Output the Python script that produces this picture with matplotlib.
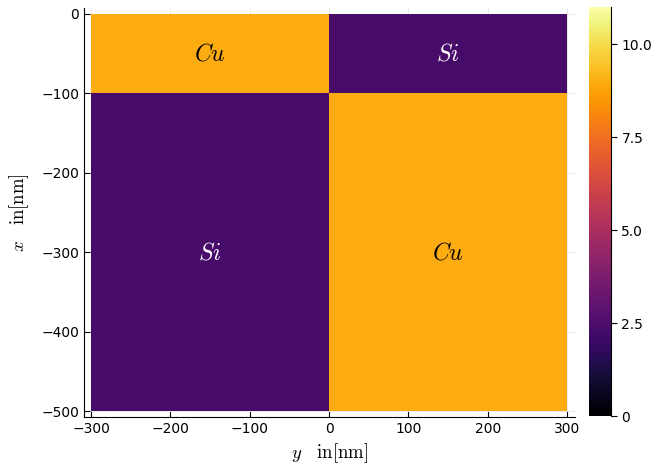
import numpy as np
import matplotlib
matplotlib.use("Agg")
import matplotlib.pyplot as plt

plt.rcParams['mathtext.fontset'] = 'cm'

# densities in g/cm^3
rho_cu = 8.96
rho_si = 2.33

# cell edges (nm)
y_edges = [-300, 0, 300]
x_edges = [-500, -100, 0]

# rows from bottom to top
density = np.array([[rho_si, rho_cu],
                    [rho_cu, rho_si]])

labels = [(-150, -50, "Cu"), (150, -50, "Si"),
          (-150, -300, "Si"), (150, -300, "Cu")]

fig = plt.figure(figsize=(6.54, 4.66), dpi=100)
ax = fig.add_axes([84/654, 1 - 417/466, 491/654, 409/466])
cax = fig.add_axes([589/654, 1 - 416/466, 22/654, 409/466])

mesh = ax.pcolormesh(y_edges, x_edges, density, cmap='inferno', vmin=0, vmax=11, zorder=2)
for xx, yy, name in labels:
    col = 'black' if name == "Cu" else 'white'
    ax.text(xx, yy, "$" + name + "$", color=col, fontsize=17, ha='center', va='center', zorder=3)

ax.set_xlim(-309, 310)
ax.set_ylim(-507.5, 7.5)
ax.set_xticks([-300, -200, -100, 0, 100, 200, 300])
ax.set_yticks([0, -100, -200, -300, -400, -500])
ax.grid(True, color='#e6e6e6', linewidth=0.6, zorder=0)
ax.set_axisbelow(True)
for s in ['top', 'right']:
    ax.spines[s].set_visible(False)
ax.tick_params(direction='in', length=4, labelsize=10, width=0.8)
ax.set_xlabel(r"$y\quad\mathrm{in[nm]}$", fontsize=13.5, labelpad=4)
ax.set_ylabel(r"$x\quad\mathrm{in[nm]}$", fontsize=13.5, labelpad=7)

cb = fig.colorbar(mesh, cax=cax)
cb.set_ticks([0, 2.5, 5.0, 7.5, 10.0])
cb.set_ticklabels(["0", "2.5", "5.0", "7.5", "10.0"])
cb.outline.set_visible(False)
cax.spines['right'].set_visible(True)
cax.tick_params(labelsize=10, length=4, width=0.8)

fig.savefig("out.png", dpi=100)
